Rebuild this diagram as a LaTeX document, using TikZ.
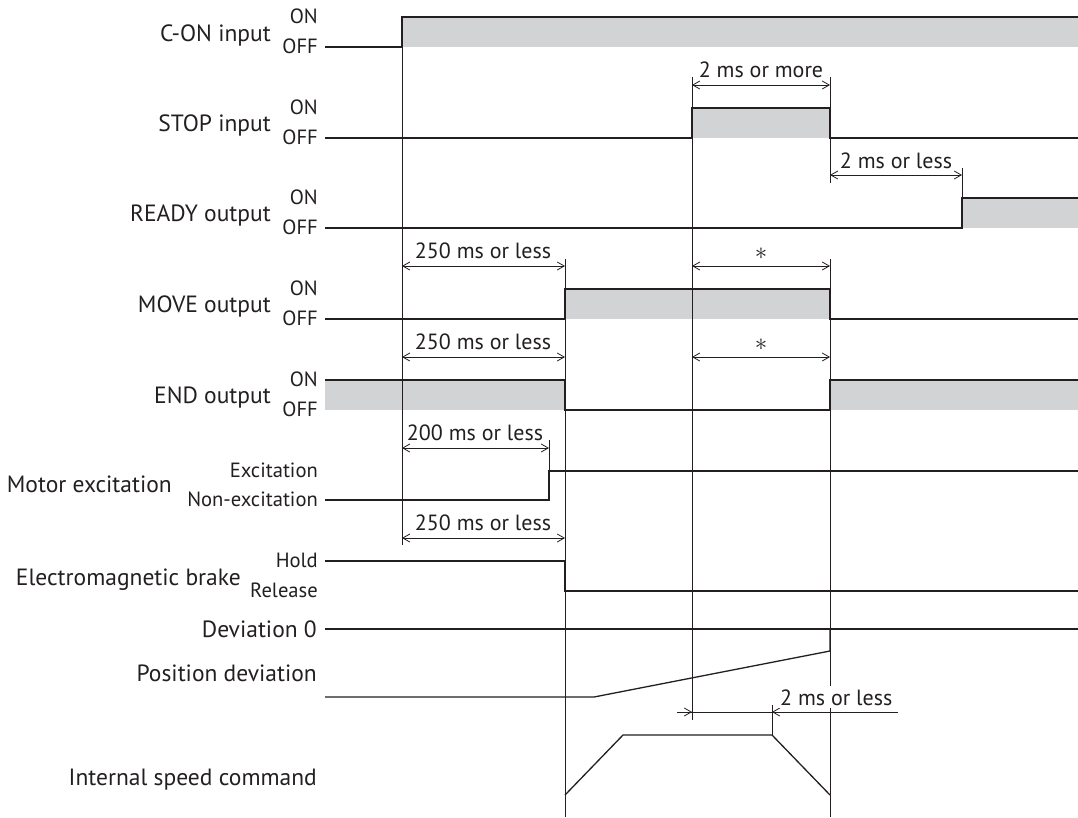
\documentclass[tikz,border=0pt]{standalone}
\usepackage{fontspec}
\setmainfont{PT Sans}
\usetikzlibrary{arrows.meta}
\definecolor{ink}{RGB}{35,31,32}
\definecolor{onfill}{RGB}{209,211,212}

\begin{document}
\begin{tikzpicture}[
    x=1pt, y=-1pt,
    sig/.style={draw=ink, line width=1.3pt},
    guide/.style={draw=ink, line width=0.8pt},
    dimline/.style={draw=ink, line width=0.8pt, {Straight Barb[length=7pt,width=8pt]}-{Straight Barb[length=7pt,width=8pt]}},
    lbl/.style={anchor=base east, inner sep=0pt, text=ink, font=\fontsize{23.5}{28}\selectfont},
    state/.style={anchor=base east, inner sep=0pt, text=ink, font=\fontsize{20.6}{24}\selectfont},
    dimtext/.style={anchor=base, inner sep=0pt, text=ink, font=\fontsize{22}{26}\selectfont},
    star/.style={inner sep=0pt, text=ink, font=\fontsize{25}{28}\selectfont}
]
\useasboundingbox (0,0) rectangle (1078,817);

% ON areas
\fill[onfill] (402,17) rectangle (1078,47);
\fill[onfill] (692,108) rectangle (830,138);
\fill[onfill] (962,198) rectangle (1078,228);
\fill[onfill] (565,289) rectangle (830,319);
\fill[onfill] (325,380) rectangle (565,410);
\fill[onfill] (830,380) rectangle (1078,410);

% Guide lines
\draw[guide] (402,17) -- (402,545);
\draw[guide] (565,259) -- (565,817);
\draw[guide] (692,77) -- (692,720);
\draw[guide] (830,77) -- (830,183);
\draw[guide] (830,259) -- (830,817);
\draw[guide] (962,168) -- (962,198);
\draw[guide] (549,440) -- (549,500);
\draw[guide] (772,705) -- (772,735);

% Signals
\draw[sig] (325,47) -- (402,47) -- (402,17) -- (1078,17);
\draw[sig] (325,138) -- (692,138) -- (692,108) -- (830,108) -- (830,138) -- (1078,138);
\draw[sig] (325,228) -- (962,228) -- (962,198) -- (1078,198);
\draw[sig] (325,319) -- (565,319) -- (565,289) -- (830,289) -- (830,319) -- (1078,319);
\draw[sig] (325,380) -- (565,380) -- (565,410) -- (830,410) -- (830,380) -- (1078,380);
\draw[sig] (325,500) -- (549,500) -- (549,471) -- (1078,471);
\draw[sig] (325,561) -- (565,561) -- (565,591) -- (1078,591);
\draw[sig] (325,629) -- (1078,629);
\draw[sig] (325,697) -- (594,697) -- (830,651) -- (830,629);
\draw[sig] (565,795) -- (623,735) -- (772,735) -- (830,795);

% Signal names
\node[lbl] (con) at (271,41) {C-ON input};
\node[lbl] (stop) at (271,131) {STOP input};
\node[lbl] (ready) at (271,221) {READY output};
\node[lbl] (move) at (271,312) {MOVE output};
\node[lbl] (end) at (271,403) {END output};
\node[lbl] (exc) at (172,492) {Motor excitation};
\node[lbl] (brake) at (241,585) {Electromagnetic brake};
\node[lbl] (dev0) at (317,637) {Deviation 0};
\node[lbl] (posdev) at (317,681) {Position deviation};
\node[lbl] (speed) at (317,785) {Internal speed command};

% Levels
\node[state] (con-on) at (318,23) {ON};
\node[state] (con-off) at (318,53) {OFF};
\node[state] (stop-on) at (318,114) {ON};
\node[state] (stop-off) at (318,144) {OFF};
\node[state] (ready-on) at (318,204) {ON};
\node[state] (ready-off) at (318,234) {OFF};
\node[state] (move-on) at (318,295) {ON};
\node[state] (move-off) at (318,325) {OFF};
\node[state] (end-on) at (318,386) {ON};
\node[state] (end-off) at (318,416) {OFF};
\node[state] (exc-on) at (318,477) {Excitation};
\node[state] (exc-off) at (318,506) {Non-excitation};
\node[state] (brake-hold) at (318,567) {Hold};
\node[state] (brake-rel) at (318,597) {Release};

% Timings
\draw[dimline] (692,85) -- (830,85);
\node[dimtext] (t-stop) at (761,77) {2 ms or more};
\draw[dimline] (830,175) -- (962,175);
\node[dimtext] (t-ready) at (896,168) {2 ms or less};
\draw[dimline] (402,266) -- (565,266);
\node[dimtext] (t-move) at (483,258) {250 ms or less};
\draw[dimline] (692,266) -- (830,266);
\node[star] (s-move) at (761,254) {$\ast$};
\draw[dimline] (402,357) -- (565,357);
\node[dimtext] (t-end) at (483,349) {250 ms or less};
\draw[dimline] (692,357) -- (830,357);
\node[star] (s-end) at (761,345) {$\ast$};
\draw[dimline] (402,448) -- (549,448);
\node[dimtext] (t-exc) at (475,440) {200 ms or less};
\draw[dimline] (402,538) -- (565,538);
\node[dimtext] (t-brake) at (483,530) {250 ms or less};

% Deceleration
\draw[guide] (677,712) -- (898,712);
\draw[guide, -{Straight Barb[length=7pt,width=8pt]}] (680,712) -- (692,712);
\draw[guide, -{Straight Barb[length=7pt,width=8pt]}] (790,712) -- (772,712);
\node[dimtext, anchor=base west, fill=white, inner xsep=1pt, inner ysep=3pt] (t-speed) at (779,705) {2 ms or less};

\end{tikzpicture}
\end{document}
